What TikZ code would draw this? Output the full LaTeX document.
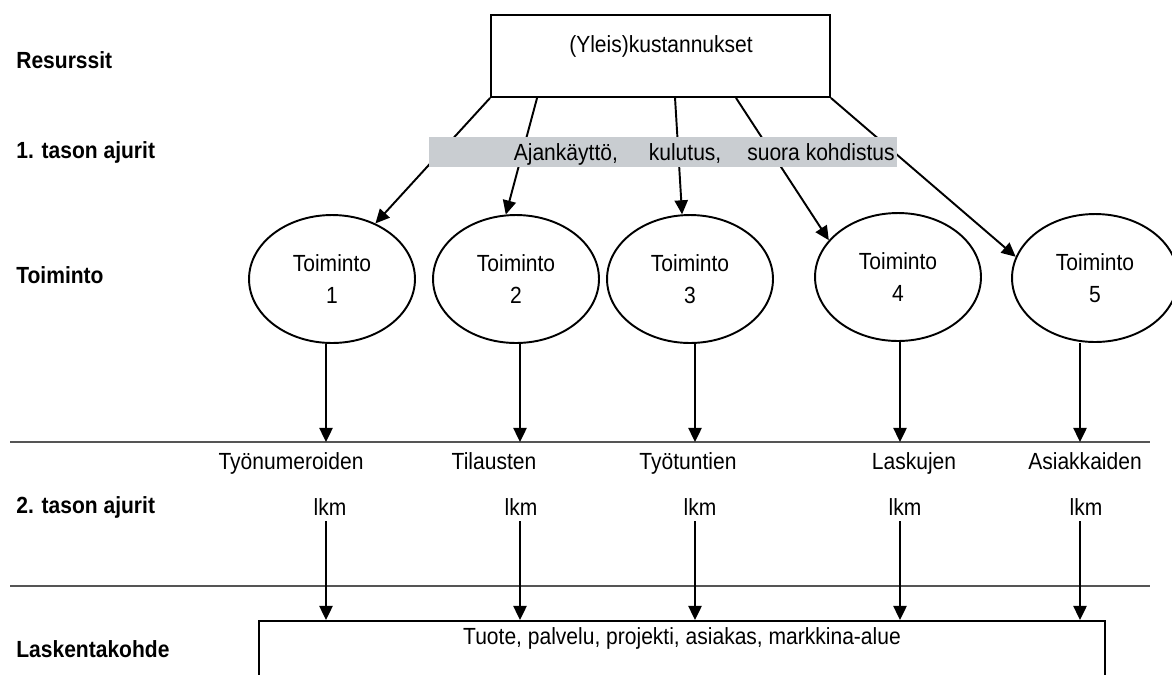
\documentclass[tikz,border=0pt]{standalone}
\usepackage{fontspec}
\setmainfont{Liberation Sans}[FakeStretch=0.9]
\usetikzlibrary{shapes.geometric,arrows.meta}
\definecolor{bandgray}{RGB}{201,205,209}
\definecolor{linegray}{RGB}{85,85,85}
\begin{document}
\begin{tikzpicture}[x=0.02cm,y=-0.02cm,
            font=\fontsize{13.3}{18}\selectfont,
            level/.style={anchor=base west, inner sep=0pt, font=\fontsize{13.3}{15}\selectfont\bfseries},
            toim/.style={ellipse, draw, line width=1.1pt, minimum width=3.32cm, minimum height=2.56cm, inner sep=0pt, align=center},
            arr/.style={line width=1.1pt, -{Triangle[length=8pt,width=7.5pt]}}
            ]
            \useasboundingbox (0,0) rectangle (1172,674);
            % levels on the left
            \node[level] (res) at (16,68) {Resurssit};
            \node[level] (aj1) at (16,158) {1. tason ajurit};
            \node[level] (toi) at (16,283) {Toiminto};
            \node[level] (aj2) at (16,513) {2. tason ajurit};
            \node[level] (lask) at (16,657) {Laskentakohde};

            \node[draw, line width=1.1pt, minimum width=6.78cm, minimum height=1.64cm, inner sep=0pt] (kost) at (660.5,56) {};
            \node (kostlbl) at (661,46) {(Yleis)kustannukset};

            \foreach \i/\x/\y in {1/332/279,2/516/279,3/690/279,4/898/277,5/1095/278}
                \node[toim] (t\i) at (\x,\y) {Toiminto\\\i};

            \draw[arr] (kost.south west) -- (t1.52);
            \draw[arr] ([xshift=0.94cm]kost.south west) -- (t2.99);
            \draw[arr] ([xshift=3.7cm]kost.south west) -- (t3.97);
            \draw[arr] ([xshift=4.92cm]kost.south west) -- (t4.152);
            \draw[arr] (kost.south east) -- (t5.165);

            \node[fill=bandgray, minimum width=9.36cm, minimum height=0.6cm, inner sep=0pt] (band) at (663,151.5) {};
            \node[anchor=base east, inner sep=0pt] (drv) at (895,160) {Ajankäyttö,\hspace{0.62cm}kulutus,\hspace{0.52cm}suora kohdistus};

            \draw[linegray, line width=1.1pt] (10,442) -- (1150,442);
            \draw[linegray, line width=1.1pt] (10,586) -- (1150,586);

            \node[anchor=base] (lab1) at (291,469) {Työnumeroiden};
            \node[anchor=base] (lab2) at (494,469) {Tilausten};
            \node[anchor=base] (lab3) at (688,469) {Työtuntien};
            \node[anchor=base] (lab4) at (914,469) {Laskujen};
            \node[anchor=base] (lab5) at (1085,469) {Asiakkaiden};
            \foreach \i/\x in {1/330,2/521,3/700,4/905,5/1086}
                \node[anchor=base] (lkm\i) at (\x,515) {lkm};

            \node[draw, line width=1.1pt, minimum width=16.92cm, minimum height=2cm, anchor=north, inner sep=0pt] (kohde) at (682,620) {};
            \node[anchor=base] (kohdelbl) at (682,644) {Tuote, palvelu, projekti, asiakas, markkina-alue};

            \foreach \i/\x in {1/326,2/520,3/695,4/900,5/1080}{
                \coordinate (h\i) at (\x,442);
                \draw[arr] (t\i.south -| h\i) -- (h\i);
                \draw[arr] (lkm\i.south -| h\i) -- (kohde.north -| h\i);
            }
            \end{tikzpicture}
\end{document}
